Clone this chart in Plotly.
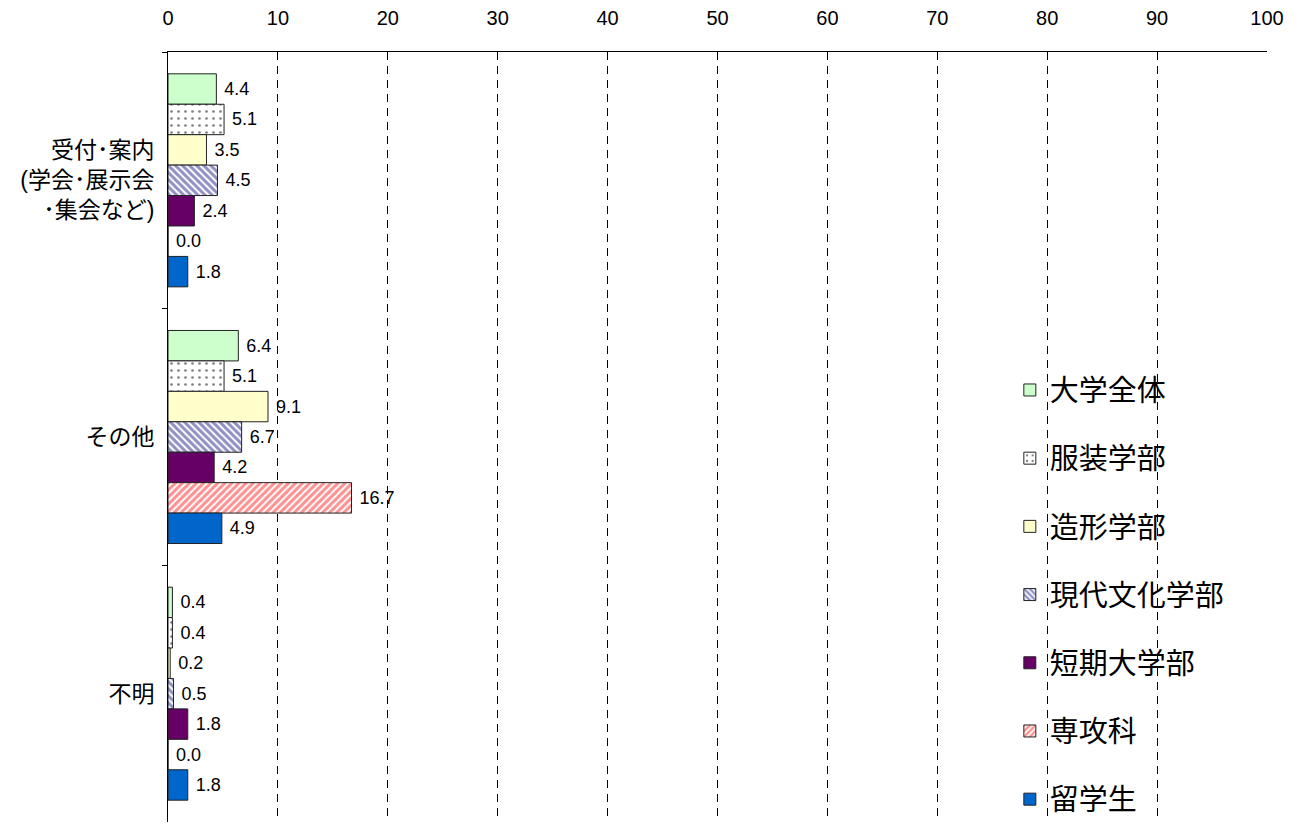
import plotly.graph_objects as go

# Survey categories (top to bottom) and respondent groups
categories = ["受付･案内<br>(学会･展示会<br>･集会など)", "その他", "不明"]
groups = ["大学全体", "服装学部", "造形学部", "現代文化学部", "短期大学部", "専攻科", "留学生"]

# Percentages per group, in category order
v_all = [4.4, 6.4, 0.4]
v_fashion = [5.1, 5.1, 0.4]
v_design = [3.5, 9.1, 0.2]
v_culture = [4.5, 6.7, 0.5]
v_junior = [2.4, 4.2, 1.8]
v_advanced = [0.0, 16.7, 0.0]
v_intl = [1.8, 4.9, 1.8]

values = [v_all, v_fashion, v_design, v_culture, v_junior, v_advanced, v_intl]

x_ticks = list(range(0, 101, 10))

FONT = "Liberation Sans, Arial, Noto Sans CJK JP, sans-serif"

styles = [
    dict(color="#CCFFCC"),
    dict(color="white", pattern=dict(shape=".", fgcolor="#000000", bgcolor="white", size=7, solidity=0.12)),
    dict(color="#FFFFCC"),
    dict(color="white", pattern=dict(shape="\\", fgcolor="#222288", bgcolor="white", size=5, solidity=0.6)),
    dict(color="#660066"),
    dict(color="white", pattern=dict(shape="/", fgcolor="#FF2222", bgcolor="white", size=5, solidity=0.6)),
    dict(color="#0066CC"),
]

fig = go.Figure()
for name, vals, st in zip(groups, values, styles):
    marker = dict(line=dict(color="#222222", width=1), **st)
    fig.add_trace(go.Bar(
        y=categories,
        x=vals,
        name=name,
        orientation="h",
        marker=marker,
        text=[f"\u00a0{v:.1f}" for v in vals],
        textposition="outside",
        textfont=dict(size=18, color="#000000", family=FONT),
        cliponaxis=False,
        legendgroup=name,
    ))

# White panel behind the legend hides the right-hand gridlines
fig.add_shape(
    type="rect", xref="paper", yref="paper",
    x0=0.66, x1=1.05, y0=-0.01, y1=0.61,
    fillcolor="white", line=dict(width=0), layer="between",
)

fig.update_layout(
    width=1302,
    height=825,
    margin=dict(l=168, r=35, t=52, b=3, autoexpand=False),
    paper_bgcolor="white",
    plot_bgcolor="white",
    barmode="group",
    bargap=0.17,
    bargroupgap=0,
    font=dict(family=FONT, color="#000000"),
    showlegend=True,
    legend=dict(
        x=0.766, xanchor="left",
        y=0.594, yanchor="top",
        bgcolor="rgba(0,0,0,0)",
        font=dict(size=29, family=FONT, color="#000000"),
        tracegroupgap=27.5,
        itemclick=False,
    ),
    xaxis=dict(
        side="top",
        range=[0, 100],
        tickvals=x_ticks,
        ticktext=[str(t) for t in x_ticks],
        ticks="inside",
        ticklen=6,
        tickcolor="#000000",
        showline=True,
        linecolor="#000000",
        linewidth=1,
        showgrid=True,
        gridcolor="#000000",
        gridwidth=1,
        griddash="8px,6px",
        zeroline=False,
        tickfont=dict(size=20, family=FONT),
        ticklabelstandoff=18,
        fixedrange=True,
    ),
    yaxis=dict(
        type="category",
        autorange="reversed",
        showline=True,
        linecolor="#000000",
        linewidth=1,
        ticks="outside",
        tickson="boundaries",
        ticklen=5,
        tickcolor="#000000",
        showgrid=False,
        tickfont=dict(size=23, family=FONT),
        ticklabelstandoff=8,
        fixedrange=True,
    ),
)

fig.write_html("out.html")
